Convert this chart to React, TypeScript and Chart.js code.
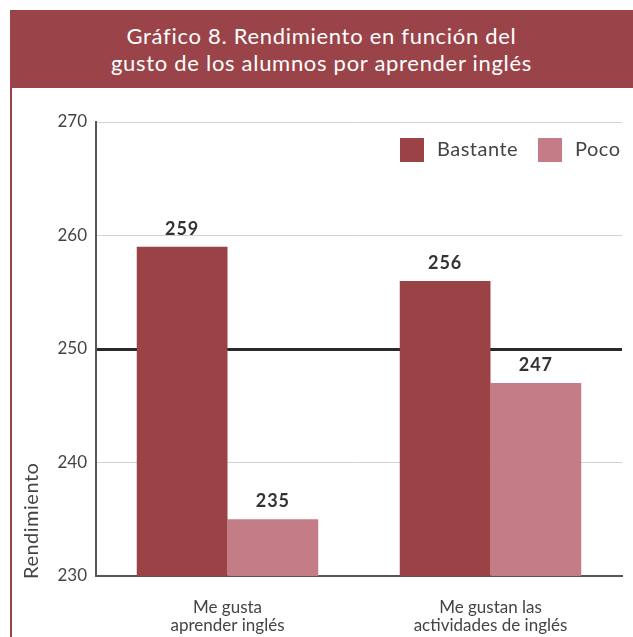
import React, { useEffect, useRef } from "react";
import { Chart, registerables } from "chart.js";

Chart.register(...registerables);

const categories: string[][] = [
  ["Me gusta", "aprender inglés"],
  ["Me gustan las", "actividades de inglés"],
];
const seriesNames = ["Bastante", "Poco"];
const bastante = [259, 256];
const poco = [235, 247];
const yMin = 230;
const yMax = 270;
const yStep = 10;
const referenceValue = 250;
const titleLines = ["Gráfico 8. Rendimiento en función del", "gusto de los alumnos por aprender inglés"];
const yAxisTitle = "Rendimiento";

const COLORS = ["#9b4246", "#c47c87"];
const FONT = "Lato, 'Open Sans', sans-serif";

const labelsPlugin = {
  id: "valueLabels",
  afterDatasetsDraw(chart: any) {
    const ctx = chart.ctx;
    ctx.save();
    ctx.font = `bold 18px ${FONT}`;
    ctx.fillStyle = "#333";
    ctx.textAlign = "center";
    ctx.textBaseline = "bottom";
    (ctx as any).letterSpacing = "1px";
    chart.data.datasets.forEach((ds: any, i: number) => {
      const meta = chart.getDatasetMeta(i);
      meta.data.forEach((bar: any, j: number) => {
        ctx.fillText(String(ds.data[j]), bar.x, bar.y - 9);
      });
    });
    ctx.restore();
  },
};

const legendPlugin = {
  id: "customLegend",
  afterDraw(chart: any) {
    const ctx = chart.ctx;
    const area = chart.chartArea;
    ctx.save();
    ctx.font = `20px ${FONT}`;
    ctx.textBaseline = "middle";
    ctx.textAlign = "left";
    (ctx as any).letterSpacing = "0.5px";
    const top = area.top + 16;
    const positions = [area.right - 222, area.right - 84];
    chart.data.datasets.forEach((ds: any, i: number) => {
      const x = positions[i];
      ctx.fillStyle = ds.backgroundColor;
      ctx.fillRect(x, top, 24, 24);
      ctx.fillStyle = "#444";
      ctx.fillText(ds.label, x + 37, top + 12);
    });
    ctx.restore();
  },
};

const yTitlePlugin = {
  id: "yTitle",
  afterDraw(chart: any) {
    const ctx = chart.ctx;
    const area = chart.chartArea;
    ctx.save();
    ctx.font = `20px ${FONT}`;
    ctx.fillStyle = "#444";
    (ctx as any).letterSpacing = "0.5px";
    ctx.translate(20, area.bottom + 3);
    ctx.rotate(-Math.PI / 2);
    ctx.textAlign = "left";
    ctx.textBaseline = "middle";
    ctx.fillText(yAxisTitle, 0, 0);
    ctx.restore();
  },
};

export default function App() {
  const canvasRef = useRef<HTMLCanvasElement | null>(null);

  useEffect(() => {
    if (!canvasRef.current) return;
    const chart = new Chart(canvasRef.current, {
      type: "bar",
      data: {
        labels: categories,
        datasets: [
          {
            label: seriesNames[0],
            data: bastante,
            backgroundColor: COLORS[0],
            categoryPercentage: 0.69,
            barPercentage: 1.0,
          },
          {
            label: seriesNames[1],
            data: poco,
            backgroundColor: COLORS[1],
            categoryPercentage: 0.69,
            barPercentage: 1.0,
          },
        ],
      },
      options: {
        animation: false,
        responsive: false,
        maintainAspectRatio: false,
        layout: { padding: { top: 34, right: 11, left: 0, bottom: 0 } },
        plugins: {
          legend: { display: false },
          tooltip: { enabled: false },
          title: { display: false },
        },
        scales: {
          x: {
            grid: { display: false },
            border: { display: true, color: "#555", width: 2 },
            ticks: {
              color: "#444",
              font: { family: FONT, size: 17, lineHeight: 1.05 },
              padding: 15,
            },
            afterFit: (scale: any) => {
              scale.height = 61;
            },
          },
          y: {
            min: yMin,
            max: yMax,
            grid: {
              drawTicks: false,
              color: (ctx: any) =>
                ctx.tick && ctx.tick.value === referenceValue ? "#2a2a2a" : "#d2d2d2",
              lineWidth: (ctx: any) =>
                ctx.tick && ctx.tick.value === referenceValue ? 3 : 1,
            },
            border: { display: true, color: "#555", width: 2 },
            ticks: {
              stepSize: yStep,
              color: "#444",
              font: { family: FONT, size: 17 },
              padding: 9,
            },
            afterFit: (scale: any) => {
              scale.width = 84;
            },
          },
        },
      },
      plugins: [labelsPlugin, legendPlugin, yTitlePlugin],
    });
    return () => chart.destroy();
  }, []);

  return (
    <div
      style={{
        position: "fixed",
        left: 0,
        top: 0,
        width: 633,
        height: 637,
        background: "#ffffff",
        overflow: "hidden",
        fontFamily: FONT,
      }}
    >
      <div
        style={{
          position: "absolute",
          left: 10,
          top: 10,
          width: 623,
          height: 78,
          background: "#9a4449",
          color: "#fff",
          textAlign: "center",
          fontSize: 22,
          fontWeight: 400,
          letterSpacing: "0.7px",
          lineHeight: "27px",
          paddingTop: 12,
          boxSizing: "border-box",
        }}
      >
        {titleLines.map((l, i) => (
          <div key={i}>{l}</div>
        ))}
      </div>
      <div
        style={{
          position: "absolute",
          left: 10,
          top: 88,
          width: 2,
          height: 549,
          background: "#9a4449",
        }}
      />
      <canvas
        ref={canvasRef}
        width={621}
        height={549}
        style={{ position: "absolute", left: 12, top: 88, width: 621, height: 549 }}
      />
    </div>
  );
}
